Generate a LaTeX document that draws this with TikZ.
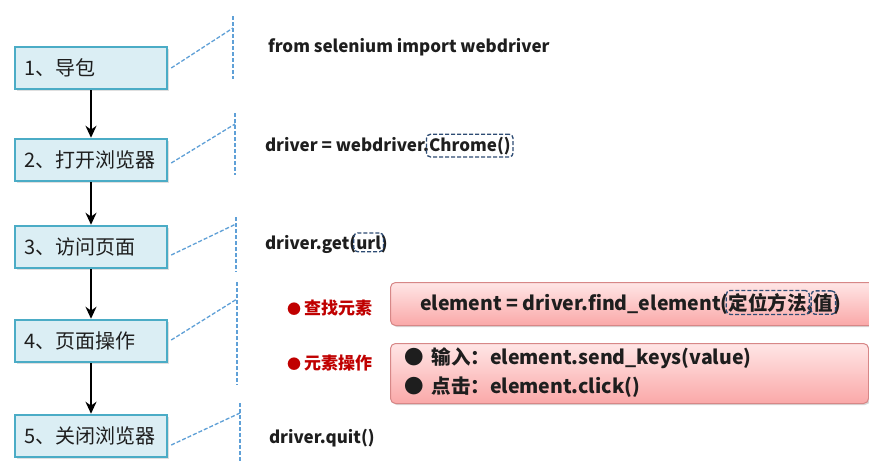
\documentclass[tikz,border=0pt]{standalone}
\usepackage{fontspec}
\setmainfont{Noto Sans CJK SC}
\usetikzlibrary{arrows.meta,positioning,shadows,fit}
\definecolor{stepfill}{RGB}{219,238,244}
\definecolor{stepline}{RGB}{75,172,198}
\definecolor{leadblue}{RGB}{95,160,215}
\definecolor{markline}{RGB}{45,75,115}
\definecolor{tagred}{RGB}{192,0,0}
\definecolor{pinktop}{RGB}{255,230,230}
\definecolor{pinkbot}{RGB}{250,168,168}
\definecolor{pinkline}{RGB}{215,135,135}
\definecolor{ink}{RGB}{30,30,30}
\tikzset{
  >={Stealth[length=12pt,width=11pt]},
  stepbox/.style={draw=stepline,fill=stepfill,line width=2.5pt,minimum width=152pt,
    minimum height=42pt,text width=134pt,align=left,font=\fontsize{20}{23}\selectfont,
    text=ink,drop shadow={opacity=0.25,shadow xshift=1.5pt,shadow yshift=-1.5pt}},
  code/.style={inner sep=0pt,outer sep=0pt,font=\bfseries\fontsize{17}{20}\selectfont,text=ink},
  boxcode/.style={code,font=\bfseries\fontsize{19.5}{22}\selectfont},
  hlbox/.style={draw=markline,dash pattern=on 4pt off 2pt,line width=1.3pt,
    rounded corners=4pt,inner sep=2.5pt},
  guide/.style={draw=leadblue,dash pattern=on 4pt off 2pt,line width=1.3pt},
  flow/.style={->,line width=2.8pt,draw=black},
  pinkbox/.style={draw=pinkline,top color=pinktop,bottom color=pinkbot,rounded corners=5pt,
    line width=1pt,drop shadow={opacity=0.3,shadow xshift=1.5pt,shadow yshift=-1.5pt}},
  tag/.style={text=tagred,font=\bfseries\fontsize{17}{20}\selectfont,inner sep=0pt},
}

\begin{document}
\begin{tikzpicture}[x=1pt,y=-1pt]
  \useasboundingbox[fill=white] (0,0) rectangle (869,461);
  % steps on the left
  \foreach \t/\y [count=\i] in {1、导包/68,2、打开浏览器/160,3、访问页面/247,4、页面操作/341,5、关闭浏览器/436}
    \node[stepbox] (s\i) at (91,\y) {\t};
  \foreach \i/\j in {1/2,2/3,3/4,4/5}
    \draw[flow] (s\i) -- (s\j);
  % dashed leaders
  \foreach \i/\x/\top/\bot/\knee/\dy in {1/233/16/79/28/0,2/235/113/175/124/3,3/236/217/272/224/8,4/237/282/385/299/-1,5/240/403/461/413/9}{
    \coordinate (g\i a) at (\x,\top);
    \coordinate (g\i b) at (\x,\bot);
    \coordinate (g\i k) at (\x,\knee);
    \draw[guide] (g\i a) -- (g\i b);
    \draw[guide] ([xshift=3pt,yshift=-\dy pt]s\i.east) -- (g\i k);
  }
  % code lines
  \node[code,anchor=base west] (c1) at (268,52) {from selenium import webdriver};
  \node[code,anchor=base west] (c2) at (265,151) {driver = webdriver.};
  \node[code,anchor=base west] (c2b) at (c2.base east) {Chrome()};
  \node[hlbox,fit=(c2b)] (h2) {};
  \node[code,anchor=base west] (c3) at (265,249) {driver.get(};
  \node[code,anchor=base west] (c3b) at (c3.base east) {url};
  \node[code,anchor=base west] (c3c) at (c3b.base east) {)};
  \node[hlbox,fit=(c3b)] (h3) {};
  \node[code,anchor=base west] (c5) at (269,443) {driver.quit()};
  % element lookup and actions
  \node[tag,anchor=west] (t1) at (287,308) {{\fontsize{14}{14}\selectfont ●}\,查找元素};
  \node[tag,anchor=west] (t2) at (287,363) {{\fontsize{14}{14}\selectfont ●}\,元素操作};
  \node[pinkbox,anchor=north west,minimum width=495pt,minimum height=43pt] (find) at (390,282) {};
  \node[pinkbox,anchor=north west,minimum width=478pt,minimum height=60pt] (act) at (390,343) {};
  \node[boxcode,anchor=base west] (f1) at (420,310) {element = driver.find\_element(};
  \node[boxcode,anchor=base west] (f2) at (f1.base east) {定位方法};
  \node[boxcode,anchor=base west] (f3) at (f2.base east) {,\ };
  \node[boxcode,anchor=base west] (f4) at (f3.base east) {值};
  \node[boxcode,anchor=base west] (f5) at (f4.base east) {)};
  \node[hlbox,fit=(f2)] (h4) {};
  \node[hlbox,fit=(f4)] (h5) {};
  \node[boxcode,anchor=base west] (a1) at (404,364) {●\hspace{8pt}输入：element.send\_keys(value)};
  \node[boxcode,anchor=base west] (a2) at (404,393) {●\hspace{8pt}点击：element.click()};
\end{tikzpicture}
\end{document}
